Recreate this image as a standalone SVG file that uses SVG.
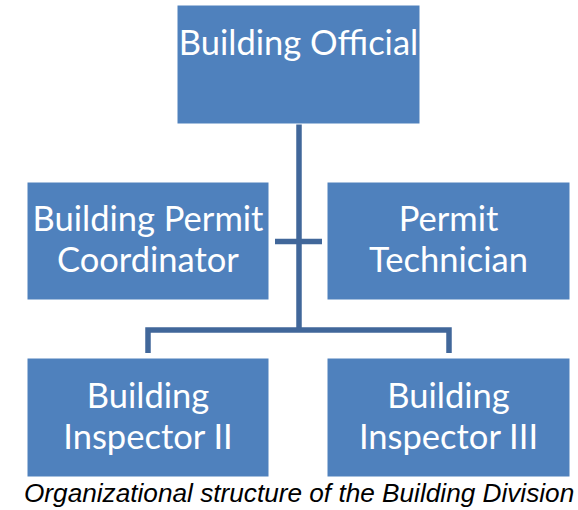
<svg xmlns="http://www.w3.org/2000/svg" width="578" height="510" viewBox="0 0 578 510">
<style>
.box{fill:#4F81BD;stroke:#ffffff;stroke-width:1}
.lbl{font-family:Lato,"Open Sans",sans-serif;font-size:34.5px;fill:#ffffff;text-anchor:middle}
.conn{fill:none;stroke:#41679A;stroke-width:5.5;stroke-linejoin:miter}
.cap{font-family:"Liberation Sans",Arial,sans-serif;font-style:italic;font-size:26.2px;fill:#000000}
</style>
<rect width="578" height="510" fill="#ffffff"/>
<g id="connectors">
<path class="conn" d="M299 124 V330"/>
<path class="conn" d="M275 241.5 H322"/>
<path class="conn" d="M148 353 V330 H449 V353"/>
</g>
<g id="building-official">
<rect class="box" x="177" y="5" width="243" height="119"/>
<text class="lbl" x="298.5" y="55">Building Official</text>
</g>
<g id="permit-coordinator">
<rect class="box" x="27" y="182" width="242" height="118"/>
<text class="lbl" x="148" y="231">Building Permit</text>
<text class="lbl" x="148" y="272">Coordinator</text>
</g>
<g id="permit-technician">
<rect class="box" x="327" y="182" width="243" height="118"/>
<text class="lbl" x="448.5" y="231">Permit</text>
<text class="lbl" x="448.5" y="272">Technician</text>
</g>
<g id="inspector-2">
<rect class="box" x="27" y="358" width="242" height="119"/>
<text class="lbl" x="148" y="408">Building</text>
<text class="lbl" x="148" y="449">Inspector II</text>
</g>
<g id="inspector-3">
<rect class="box" x="327" y="358" width="243" height="119"/>
<text class="lbl" x="448.5" y="408">Building</text>
<text class="lbl" x="448.5" y="449">Inspector III</text>
</g>
<text class="cap" x="24" y="502">Organizational structure of the Building Division</text>
</svg>
